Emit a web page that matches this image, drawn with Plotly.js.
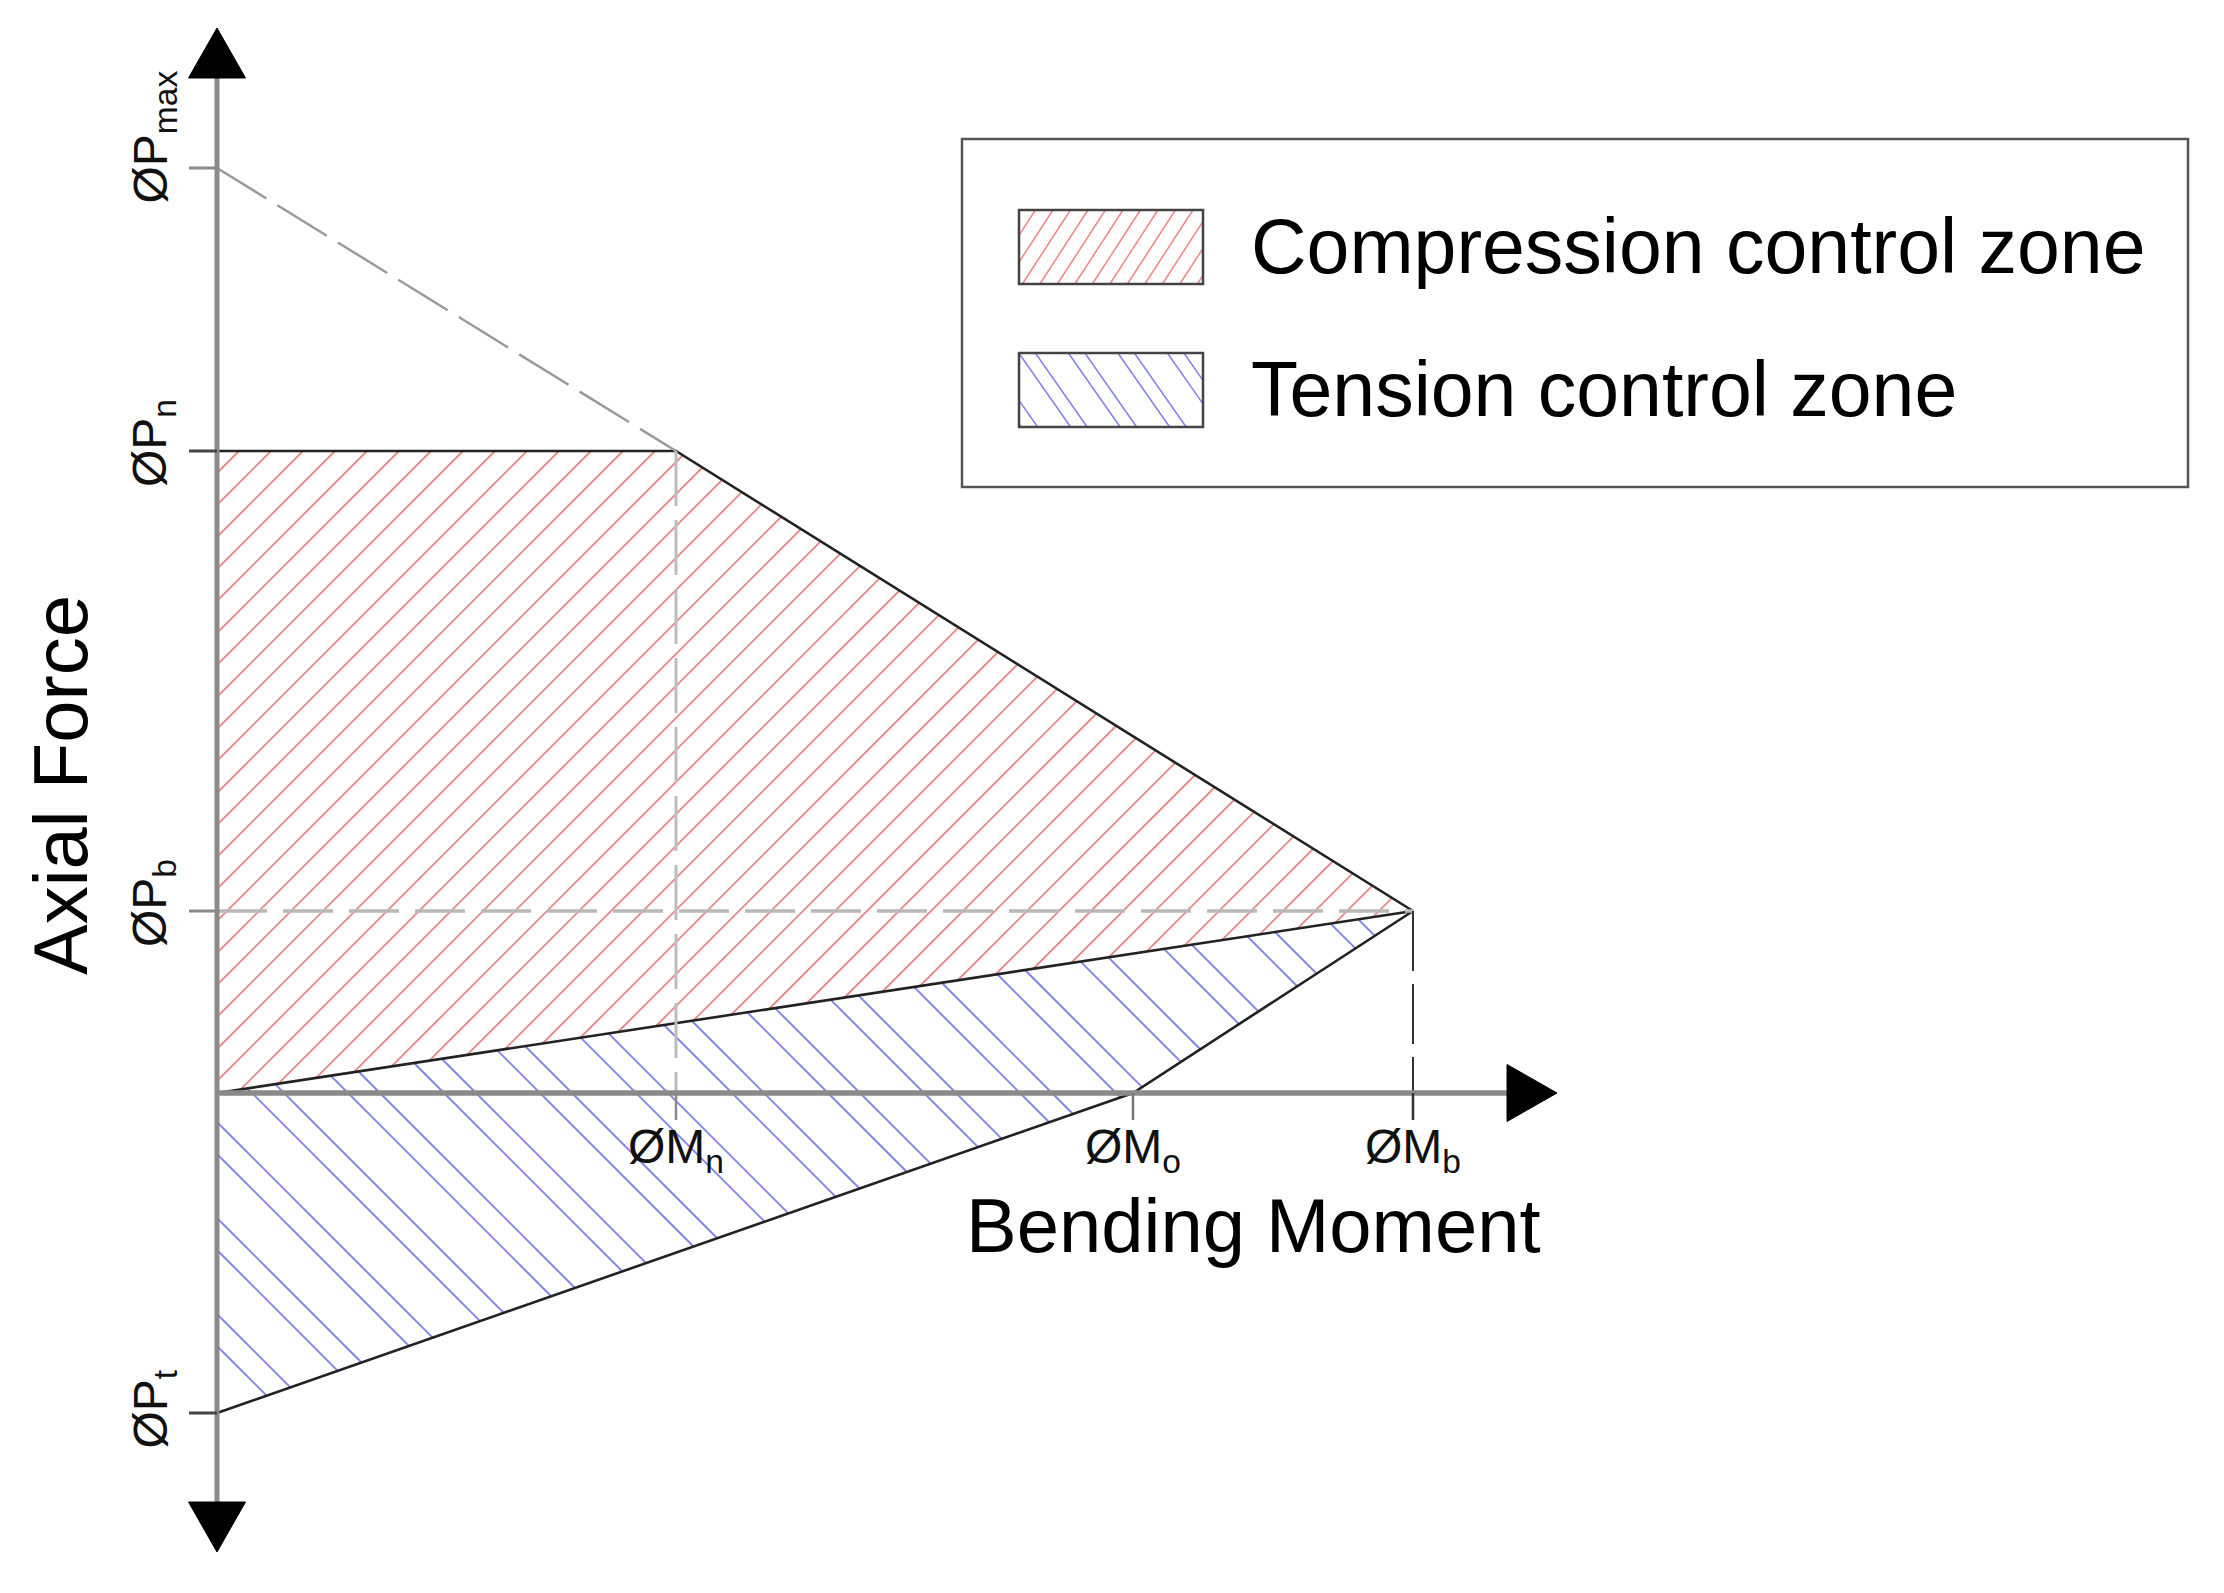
<!DOCTYPE html>
<html><head><meta charset="utf-8">
<script src="https://cdn.plot.ly/plotly-3.0.1.min.js"></script>
<style>html,body{margin:0;padding:0;background:#fff;overflow:hidden}</style>
</head><body><div id="chart" style="width:2224px;height:1593px"></div>
<script>
// ---- values (arbitrary units: M = bending moment, P = axial force) ----
const momentLabels = ['ØM<sub>n</sub>', 'ØM<sub>o</sub>', 'ØM<sub>b</sub>'];
const momentValues = [4.59, 9.16, 11.96];
const forceLabels = ['ØP<sub>max</sub>', 'ØP<sub>n</sub>', 'ØP<sub>b</sub>', 'ØP<sub>t</sub>'];
const forceValues = [9.25, 6.42, 1.82, -3.20];
const zoneNames = ['Compression control zone', 'Tension control zone'];
const axisTitles = ['Bending Moment', 'Axial Force'];

const Mn = momentValues[0], Mo = momentValues[1], Mb = momentValues[2];
const Pmax = forceValues[0], Pn = forceValues[1], Pb = forceValues[2], Pt = forceValues[3];

// zones built from the key points
const compressionZone = [[0, Pn], [Mn, Pn], [Mb, Pb], [0, 0]];
const tensionZone = [[0, 0], [Mb, Pb], [Mo, 0], [0, Pt]];

// ---- styling ----
const FONT = 'Liberation Sans, Arial, sans-serif';
const RED = 'rgb(238,135,135)', BLUE = 'rgb(130,130,238)';
const AXIS = '#8a8a8a', OUT = '#222';

// hatch lines clipped to a convex polygon
function hatch(poly, angleDeg, spacingX, phase, keep) {
  const a = angleDeg * Math.PI / 180, dx = Math.cos(a), dy = Math.sin(a);
  const nx = -dy, ny = dx;
  const ints = poly.map(p => p[0] - p[1] * dx / dy);
  const lo = Math.min(...ints), hi = Math.max(...ints);
  const kmin = Math.floor((lo - phase) / spacingX) - 1, kmax = Math.ceil((hi - phase) / spacingX) + 1;
  const xs = [], ys = [];
  for (let k = kmin; k <= kmax; k++) {
    if (keep && !keep(k)) continue;
    const x0 = phase + k * spacingX, c = nx * x0;
    const pts = [];
    for (let i = 0; i < poly.length; i++) {
      const p1 = poly[i], p2 = poly[(i + 1) % poly.length];
      const s1 = nx * p1[0] + ny * p1[1] - c, s2 = nx * p2[0] + ny * p2[1] - c;
      if ((s1 <= 0 && s2 > 0) || (s1 > 0 && s2 <= 0)) {
        const t = s1 / (s1 - s2);
        pts.push([p1[0] + t * (p2[0] - p1[0]), p1[1] + t * (p2[1] - p1[1])]);
      }
    }
    if (pts.length >= 2) {
      pts.sort((u, v) => (u[0] * dx + u[1] * dy) - (v[0] * dx + v[1] * dy));
      const A = pts[0], B = pts[pts.length - 1];
      xs.push(A[0], B[0], null); ys.push(A[1], B[1], null);
    }
  }
  return {xs, ys};
}
const skipThird = k => ((k % 3) + 3) % 3 !== 1;
function hatchTrace(h, color, width) {
  return {x: h.xs, y: h.ys, type: 'scatter', mode: 'lines', hoverinfo: 'skip', showlegend: false,
          line: {color: color, width: width}};
}

// legend geometry (data units of this drawing)
const LEG = {x0: 7.45, x1: 19.71, y0: 6.06, y1: 9.54, px0: 8.02, px1: 9.86, textX: 10.32};
const legRows = [{y0: 8.09, y1: 8.83, ty: 8.47}, {y0: 6.66, y1: 7.40, ty: 7.04}];
const rect = (r) => [[LEG.px0, r.y0], [LEG.px1, r.y0], [LEG.px1, r.y1], [LEG.px0, r.y1]];

const traces = [
  hatchTrace(hatch(compressionZone, 45, 0.32, 0.20), RED, 1.9),
  hatchTrace(hatch(tensionZone, -45, 0.32, -0.29, skipThird), BLUE, 1.9),
  hatchTrace(hatch(rect(legRows[0]), 57, 0.175, 0.0), RED, 1.5),
  hatchTrace(hatch(rect(legRows[1]), -55, 0.165, 0.0, skipThird), BLUE, 1.5),
  {x: [0, Mn, Mb, null, 0, Mb, null, Mb, Mo, 0], y: [Pn, Pn, Pb, null, 0, Pb, null, Pb, 0, Pt],
   type: 'scatter', mode: 'lines', hoverinfo: 'skip', showlegend: false, line: {color: OUT, width: 2.6}}
];

// axis extents and arrowheads
const yTop = 10.65, yBottom = -4.59, xEnd = 13.40, arrowLen = 0.50, arrowHalf = 0.285;
const line = (x0, y0, x1, y1, color, width, dash) => ({type: 'line', xref: 'x', yref: 'y', x0, y0, x1, y1,
  line: {color, width, dash: dash || 'solid'}});
const tri = (pts) => ({type: 'path', xref: 'x', yref: 'y', path: 'M' + pts.map(p => p[0] + ',' + p[1]).join('L') + 'Z',
  fillcolor: '#000', line: {color: '#000', width: 1}});

const tickLen = 0.28;
const yTickColors = ['#8a8a8a', '#444', '#8a8a8a', '#444'];
const xTickColors = ['#8a8a8a', '#777', '#333'];

const shapes = [
  // dashed guides
  line(0, Pmax, Mn, Pn, '#9a9a9a', 2.5, '58px,13px'),
  line(Mn, Pn, Mn, 0, '#bdbdbd', 3, '55px,14px'),
  line(0, Pb, Mb, Pb, '#b8b8b8', 3.5, '50px,16px'),
  line(Mb, Pb, Mb, 0, '#333', 2, '60px,13px'),
  // axes
  line(0, yBottom + arrowLen, 0, yTop - arrowLen, AXIS, 5),
  line(0, 0, xEnd - arrowLen, 0, AXIS, 5.5),
  tri([[0, yTop], [-arrowHalf, yTop - arrowLen], [arrowHalf, yTop - arrowLen]]),
  tri([[0, yBottom], [-arrowHalf, yBottom + arrowLen], [arrowHalf, yBottom + arrowLen]]),
  tri([[xEnd, 0], [xEnd - arrowLen, arrowHalf], [xEnd - arrowLen, -arrowHalf]]),
  // legend
  {type: 'rect', xref: 'x', yref: 'y', x0: LEG.x0, x1: LEG.x1, y0: LEG.y0, y1: LEG.y1, line: {color: '#555', width: 2.5}},
  ...legRows.map(r => ({type: 'rect', xref: 'x', yref: 'y', x0: LEG.px0, x1: LEG.px1, y0: r.y0, y1: r.y1,
    line: {color: '#444', width: 2.5}}))
];
forceValues.forEach((v, i) => shapes.push(line(-tickLen, v, 0, v, yTickColors[i], 3)));
momentValues.forEach((v, i) => shapes.push(line(v, 0, v, -0.27, xTickColors[i], 2.5)));

const annotations = [];
forceValues.forEach((v, i) => annotations.push({x: -0.64, y: v, xref: 'x', yref: 'y', text: forceLabels[i],
  textangle: -90, showarrow: false, xanchor: 'center', yanchor: 'bottom', yshift: -38,
  font: {family: FONT, size: 48, color: '#111'}}));
momentValues.forEach((v, i) => annotations.push({x: v, y: -0.57, xref: 'x', yref: 'y', text: momentLabels[i],
  showarrow: false, xanchor: 'center', yanchor: 'middle', font: {family: FONT, size: 48, color: '#111'}}));
annotations.push({x: 10.36, y: -1.32, xref: 'x', yref: 'y', text: axisTitles[0], showarrow: false,
  xanchor: 'center', yanchor: 'middle', font: {family: FONT, size: 76, color: '#000'}});
annotations.push({x: -1.57, y: 3.08, xref: 'x', yref: 'y', text: axisTitles[1], showarrow: false, textangle: -90,
  xanchor: 'center', yanchor: 'middle', font: {family: FONT, size: 76, color: '#000'}});
zoneNames.forEach((n, i) => annotations.push({x: LEG.textX, y: legRows[i].ty, xref: 'x', yref: 'y', text: n,
  showarrow: false, xanchor: 'left', yanchor: 'middle', font: {family: FONT, size: 77, color: '#000'}}));

const layout = {
  width: 2224, height: 1593, margin: {l: 0, r: 0, t: 0, b: 0, pad: 0},
  paper_bgcolor: '#fff', plot_bgcolor: '#fff', showlegend: false,
  xaxis: {range: [-2.17, 20.07], visible: false, fixedrange: true},
  yaxis: {range: [-5.00, 10.93], visible: false, fixedrange: true},
  shapes: shapes, annotations: annotations
};
Plotly.newPlot('chart', traces, layout, {staticPlot: true, displayModeBar: false});
</script></body></html>
